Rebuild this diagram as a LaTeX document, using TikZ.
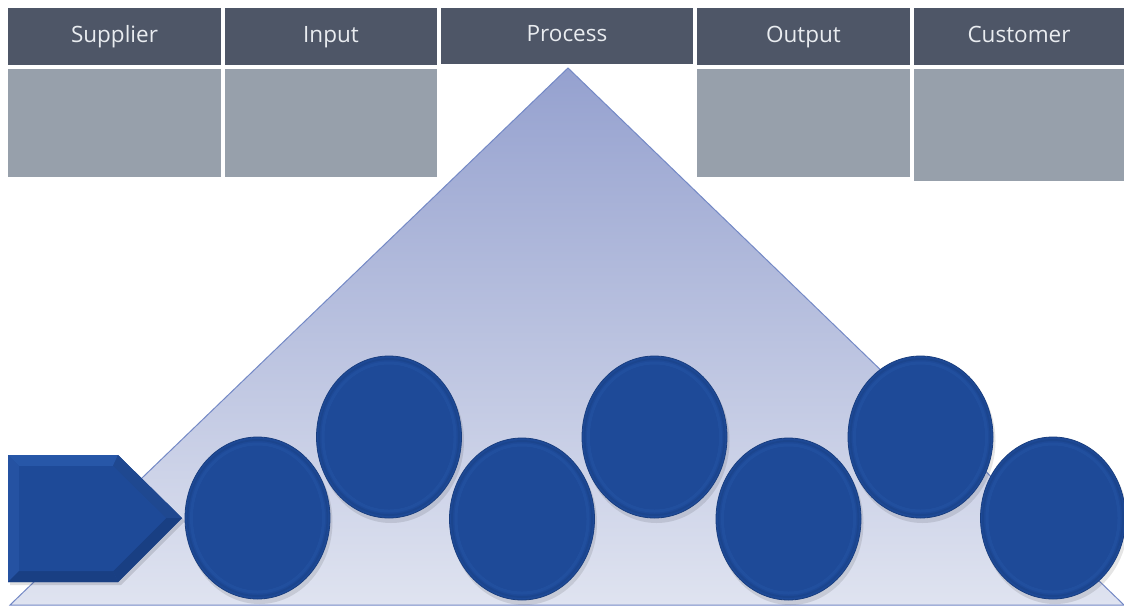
\documentclass[tikz,border=0pt]{standalone}
\usepackage{fontspec}
\setmainfont{Open Sans}
\usetikzlibrary{shapes.geometric}
\definecolor{hdrfill}{HTML}{4E5667}
\definecolor{hdrtext}{HTML}{E9ECF0}
\definecolor{cellfill}{HTML}{97A0AB}
\definecolor{triTop}{HTML}{95A1CF}
\definecolor{triBot}{HTML}{DFE3F0}
\definecolor{triEdge}{HTML}{7489C6}
\definecolor{ballFill}{HTML}{1E4A98}
\definecolor{ballRim}{HTML}{183D7E}
\definecolor{ballLight}{HTML}{2A5BAD}
\definecolor{bevTop}{HTML}{2757A8}
\definecolor{bevLeft}{HTML}{2552A2}
\definecolor{bevDark}{HTML}{193F83}
\definecolor{bevMid}{HTML}{1F4890}
\tikzset{
  hdrbox/.style={fill=hdrfill, text=hdrtext, inner sep=0pt,
    minimum height=57pt, text height=16pt, text depth=5pt,
    font=\fontsize{22.5}{26}\selectfont},
  cellbox/.style={fill=cellfill, inner sep=0pt},
  ball/.style={ellipse, fill=ballFill, draw=ballRim, line width=0.8pt,
    minimum width=145pt, minimum height=162pt, inner sep=0pt},
  ballshadow/.style={fill=black, opacity=0.10}
}
\newcommand{\bevelball}[3]{%
  % soft shadow
  \fill[ballshadow] (#2+2,#3+4) ellipse [x radius=73pt, y radius=82pt];
  \node[ball] (#1) at (#2,#3) {};
  % subtle inner bevel
  \draw[ballRim, line width=2pt, opacity=0.35]
    (#2,#3) ellipse [x radius=70pt, y radius=78pt];
  \draw[ballLight, line width=3pt, opacity=0.30]
    (#2,#3) ellipse [x radius=66pt, y radius=74pt];
  \fill[ballFill] (#2,#3) ellipse [x radius=64pt, y radius=72pt];
}
\begin{document}
\begin{tikzpicture}[x=1pt,y=-1pt]
  \useasboundingbox (0,0) rectangle (1124,608);
  \fill[white] (0,0) rectangle (1124,608);

  % process triangle
  \coordinate (apex) at (568,68);
  \coordinate (bl) at (10,605);
  \coordinate (br) at (1124,605);
  \shade[top color=triTop, bottom color=triBot] (apex) -- (br) -- (bl) -- cycle;
  \draw[triEdge, line width=1pt, line join=miter] (apex) -- (br) -- (bl) -- cycle;

  % header row
  \node[hdrbox, minimum width=213pt] (sup) at (114.5,36.5) {Supplier};
  \node[hdrbox, minimum width=212pt] (inp) at (331,36.5) {Input};
  \node[hdrbox, minimum width=252pt, minimum height=56pt] (proc) at (567,36) {Process};
  \node[hdrbox, minimum width=213pt] (outp) at (803.5,36.5) {Output};
  \node[hdrbox, minimum width=210pt] (cust) at (1019,36.5) {Customer};

  % content cells
  \node[cellbox, minimum width=213pt, minimum height=108pt] (supc) at (114.5,123) {};
  \node[cellbox, minimum width=212pt, minimum height=108pt] (inpc) at (331,123) {};
  \node[cellbox, minimum width=213pt, minimum height=108pt] (outc) at (803.5,123) {};
  \node[cellbox, minimum width=210pt, minimum height=112pt] (custc) at (1019,125) {};

  % start arrow (bevelled pentagon)
  \coordinate (pA) at (8,455);
  \coordinate (pB) at (118,455);
  \coordinate (pC) at (182,518);
  \coordinate (pD) at (118,582);
  \coordinate (pE) at (8,582);
  \coordinate (qA) at (19,466);
  \coordinate (qB) at (113,466);
  \coordinate (qC) at (166,518);
  \coordinate (qD) at (113,571);
  \coordinate (qE) at (19,571);
  \fill[black, opacity=0.12] (10,458) -- (121,458) -- (185,521) -- (121,585) -- (10,585) -- cycle;
  \fill[ballFill] (pA) -- (pB) -- (pC) -- (pD) -- (pE) -- cycle;
  \fill[bevTop] (pA) -- (pB) -- (qB) -- (qA) -- cycle;
  \fill[bevLeft] (pA) -- (qA) -- (qE) -- (pE) -- cycle;
  \fill[bevMid] (pB) -- (pC) -- (qC) -- (qB) -- cycle;
  \fill[bevDark] (pC) -- (pD) -- (qD) -- (qC) -- cycle;
  \fill[bevDark] (pE) -- (qE) -- (qD) -- (pD) -- cycle;
  \fill[ballFill] (qA) -- (qB) -- (qC) -- (qD) -- (qE) -- cycle;

  % process steps
  \bevelball{s1}{257.5}{518}
  \bevelball{s2}{389}{437}
  \bevelball{s3}{522}{519}
  \bevelball{s4}{654.5}{437}
  \bevelball{s5}{788.5}{519}
  \bevelball{s6}{920.5}{437}
  \bevelball{s7}{1053}{518}
\end{tikzpicture}
\end{document}
